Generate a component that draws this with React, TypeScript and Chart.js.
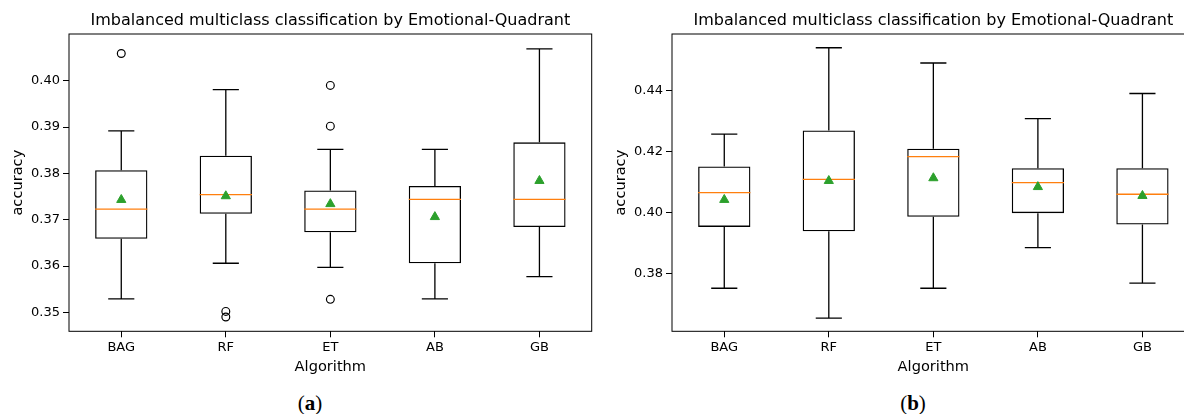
import React, { useEffect, useRef } from "react";
import { Chart, registerables } from "chart.js";
Chart.register(...registerables);

const FONT = "'DejaVu Sans', sans-serif";
const TITLE = "Imbalanced multiclass classification by Emotional-Quadrant";

const categories = ["BAG", "RF", "ET", "AB", "GB"];

// ---- Chart (a) ----
const aWhiskerLow = [0.3529, 0.3606, 0.3597, 0.3529, 0.3577];
const aQ1 = [0.3659, 0.3713, 0.3673, 0.3606, 0.3684];
const aMedian = [0.3723, 0.3754, 0.3723, 0.3744, 0.3744];
const aQ3 = [0.3807, 0.3838, 0.3763, 0.3773, 0.3867];
const aWhiskerHigh = [0.3892, 0.3981, 0.3852, 0.3852, 0.4069];
const aMean = [0.3743, 0.3751, 0.3734, 0.3706, 0.3784];
const aOutlierCats = ["BAG", "RF", "RF", "ET", "ET", "ET"];
const aOutlierVals = [0.4059, 0.3502, 0.349, 0.399, 0.3902, 0.3528];
const aYTicks = [0.35, 0.36, 0.37, 0.38, 0.39, 0.4];
const aYMin = 0.3459;
const aYMax = 0.4101;

// ---- Chart (b) ----
const bWhiskerLow = [0.3752, 0.3654, 0.3752, 0.3885, 0.3769];
const bQ1 = [0.3953, 0.3939, 0.3986, 0.3998, 0.3961];
const bMedian = [0.4065, 0.4109, 0.4183, 0.4098, 0.406];
const bQ3 = [0.4151, 0.4269, 0.4209, 0.4145, 0.4145];
const bWhiskerHigh = [0.4257, 0.454, 0.449, 0.4308, 0.439];
const bMean = [0.4042, 0.4104, 0.4113, 0.4084, 0.4055];
const bOutlierCats: string[] = [];
const bOutlierVals: number[] = [];
const bYTicks = [0.38, 0.4, 0.42, 0.44];
const bYMin = 0.3611;
const bYMax = 0.4585;

type BoxProps = {
  low: number[];
  q1: number[];
  median: number[];
  q3: number[];
  high: number[];
  mean: number[];
  outCats: string[];
  outVals: number[];
  yTicks: number[];
  yMin: number;
  yMax: number;
  left: number;
};

function BoxChart(p: BoxProps) {
  const ref = useRef<HTMLCanvasElement | null>(null);
  useEffect(() => {
    if (!ref.current) return;
    const boxPlugin = {
      id: "boxParts",
      beforeDatasetsDraw(chart: any) {
        const { ctx, chartArea } = chart;
        ctx.save();
        ctx.strokeStyle = "#000";
        ctx.lineWidth = 1;
        ctx.strokeRect(chartArea.left, chartArea.top, chartArea.right - chartArea.left, chartArea.bottom - chartArea.top);
        ctx.restore();
      },
      afterDatasetDraw(chart: any, args: any) {
        if (args.index !== 0) return;
        const meta = chart.getDatasetMeta(0);
        const ys = chart.scales.y;
        const ctx = chart.ctx;
        ctx.save();
        ctx.lineWidth = 1.3;
        meta.data.forEach((bar: any, i: number) => {
          const { x, width } = bar.getProps(["x", "width"], true);
          const half = width / 2;
          const cap = width / 4;
          const yLo = ys.getPixelForValue(p.low[i]);
          const yQ1 = ys.getPixelForValue(p.q1[i]);
          const yMed = ys.getPixelForValue(p.median[i]);
          const yQ3 = ys.getPixelForValue(p.q3[i]);
          const yHi = ys.getPixelForValue(p.high[i]);
          ctx.strokeStyle = "#000";
          ctx.beginPath();
          ctx.moveTo(x, yQ3);
          ctx.lineTo(x, yHi);
          ctx.moveTo(x - cap, yHi);
          ctx.lineTo(x + cap, yHi);
          ctx.moveTo(x, yQ1);
          ctx.lineTo(x, yLo);
          ctx.moveTo(x - cap, yLo);
          ctx.lineTo(x + cap, yLo);
          ctx.stroke();
          ctx.strokeStyle = "#ff7f0e";
          ctx.beginPath();
          ctx.moveTo(x - half, yMed);
          ctx.lineTo(x + half, yMed);
          ctx.stroke();
        });
        ctx.restore();
      },
    };

    const chart = new Chart(ref.current, {
      type: "bar",
      data: {
        labels: categories,
        datasets: [
          {
            type: "bar",
            data: p.q1.map((v, i) => [v, p.q3[i]]),
            backgroundColor: "rgba(0,0,0,0)",
            borderColor: "#000",
            borderWidth: 1.3,
            borderSkipped: false,
            barPercentage: 0.5,
            categoryPercentage: 1,
            order: 2,
          } as any,
          {
            type: "line",
            data: p.outVals.map((v, i) => ({ x: p.outCats[i], y: v })),
            showLine: false,
            pointStyle: "circle",
            pointRadius: 3.9,
            pointBorderWidth: 1.2,
            pointBorderColor: "#000",
            pointBackgroundColor: "rgba(0,0,0,0)",
            order: 1,
          } as any,
          {
            type: "line",
            data: p.mean,
            showLine: false,
            pointStyle: "triangle",
            pointRadius: 5.3,
            pointBorderWidth: 1,
            pointBorderColor: "#2ca02c",
            pointBackgroundColor: "#2ca02c",
            order: 0,
          } as any,
        ],
      },
      options: {
        responsive: false,
        animation: false,
        events: [],
        layout: { padding: { left: 0, right: 28.3, top: 0, bottom: 0 } },
        plugins: {
          legend: { display: false },
          tooltip: { enabled: false },
          title: {
            display: true,
            text: TITLE,
            fullSize: false,
            color: "#000",
            font: { family: FONT, size: 16, weight: "normal" },
            padding: { top: 11.6, bottom: 3.2 },
          },
        },
        scales: {
          x: {
            offset: true,
            grid: { display: true, drawOnChartArea: false, offset: false, tickLength: 6, color: "#000", tickWidth: 1 },
            border: { display: false },
            ticks: { color: "#000", font: { family: FONT, size: 13 }, padding: 3, maxRotation: 0 },
            title: {
              display: true,
              text: "Algorithm",
              color: "#000",
              font: { family: FONT, size: 14.6 },
              padding: { top: 0, bottom: 4.2 },
            },
            afterFit: (s: any) => {
              s.height = 48.7;
            },
          },
          y: {
            min: p.yMin,
            max: p.yMax,
            afterBuildTicks: (s: any) => {
              s.ticks = p.yTicks.map((v) => ({ value: v }));
            },
            grid: { display: true, drawOnChartArea: false, tickLength: 6, color: "#000", tickWidth: 1 },
            border: { display: false },
            ticks: {
              color: "#000",
              font: { family: FONT, size: 13 },
              padding: 3,
              callback: (v: any) => Number(v).toFixed(2),
            },
            title: {
              display: true,
              text: "accuracy",
              color: "#000",
              font: { family: FONT, size: 14.6 },
              padding: { top: 9.5, bottom: 0 },
            },
            afterFit: (s: any) => {
              s.width = 69;
            },
          },
        },
      } as any,
      plugins: [boxPlugin],
    });
    return () => chart.destroy();
  }, []);
  return (
    <canvas
      ref={ref}
      width={620}
      height={380}
      style={{ position: "absolute", left: p.left, top: 0, width: 620, height: 380, display: "block" }}
    />
  );
}

const subLabel: React.CSSProperties = {
  position: "absolute",
  top: 391,
  width: 60,
  textAlign: "center",
  fontFamily: "'Liberation Serif', serif",
  fontSize: 21,
  lineHeight: "24px",
  color: "#000",
};

export default function App() {
  return (
    <div
      style={{
        position: "absolute",
        left: 0,
        top: 0,
        width: 1184,
        height: 414,
        overflow: "hidden",
        background: "#fff",
      }}
    >
      <BoxChart
        low={aWhiskerLow}
        q1={aQ1}
        median={aMedian}
        q3={aQ3}
        high={aWhiskerHigh}
        mean={aMean}
        outCats={aOutlierCats}
        outVals={aOutlierVals}
        yTicks={aYTicks}
        yMin={aYMin}
        yMax={aYMax}
        left={0}
      />
      <BoxChart
        low={bWhiskerLow}
        q1={bQ1}
        median={bMedian}
        q3={bQ3}
        high={bWhiskerHigh}
        mean={bMean}
        outCats={bOutlierCats}
        outVals={bOutlierVals}
        yTicks={bYTicks}
        yMin={bYMin}
        yMax={bYMax}
        left={603}
      />
      <div style={{ ...subLabel, left: 310 - 30 }}>
        (<b>a</b>)
      </div>
      <div style={{ ...subLabel, left: 913 - 30 }}>
        (<b>b</b>)
      </div>
    </div>
  );
}
